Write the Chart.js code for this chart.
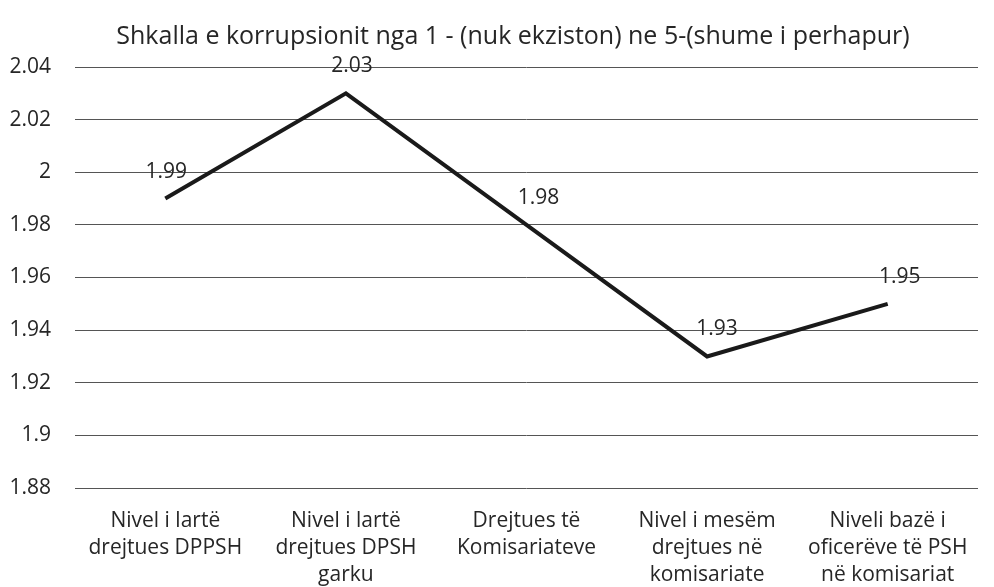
<!DOCTYPE html>
<html><head><meta charset="utf-8">
<script src="https://cdn.jsdelivr.net/npm/chart.js@4"></script>
<style>html,body{margin:0;padding:0;background:#fff}#wrap{width:994px;height:587px}</style>
</head><body><div id="wrap"><canvas id="c" width="994" height="587"></canvas></div>
<script>
const categories = [
  ["Nivel i lartë", "drejtues DPPSH"],
  ["Nivel i lartë", "drejtues DPSH", "garku"],
  ["Drejtues të", "Komisariateve"],
  ["Nivel i mesëm", "drejtues në", "komisariate"],
  ["Niveli bazë i", "oficerëve të PSH", "në komisariat"]
];
const values = [1.99, 2.03, 1.98, 1.93, 1.95];
const labelOffsets = [1, 6, 12, 10, 12];
const yMin = 1.88, yMax = 2.04, yStep = 0.02;
const title = "Shkalla e korrupsionit nga 1 - (nuk ekziston) ne 5-(shume i perhapur)";
const FONT = "'Open Sans', sans-serif";
const TXT = '#262626';

const labelPlugin = {
  id: 'valLabels',
  afterDatasetsDraw(chart) {
    const ctx = chart.ctx;
    const meta = chart.getDatasetMeta(0);
    ctx.save();
    ctx.font = "21px " + FONT;
    ctx.fillStyle = TXT;
    ctx.textAlign = 'center';
    ctx.textBaseline = 'middle';
    meta.data.forEach((pt, i) => {
      ctx.fillText(String(values[i]), pt.x + labelOffsets[i], pt.y - 27);
    });
    ctx.restore();
  }
};

const titlePlugin = {
  id: 'topTitle',
  afterDraw(chart) {
    const ctx = chart.ctx;
    ctx.save();
    ctx.font = "25px " + FONT;
    ctx.fillStyle = TXT;
    ctx.textAlign = 'center';
    ctx.textBaseline = 'middle';
    ctx.fillText(title, 513, 37);
    ctx.restore();
  }
};

new Chart(document.getElementById('c'), {
  type: 'line',
  data: {
    labels: categories,
    datasets: [{
      data: values,
      borderColor: '#1a1a1a',
      borderWidth: 4,
      pointRadius: 0,
      tension: 0,
      fill: false
    }]
  },
  options: {
    responsive: false,
    animation: false,
    devicePixelRatio: 1,
    layout: { padding: { left: 0, right: 16, top: 67, bottom: 0 } },
    plugins: {
      legend: { display: false },
      tooltip: { enabled: false },
      title: { display: false }
    },
    scales: {
      y: {
        min: yMin, max: yMax,
        border: { display: false },
        grid: { color: '#555', lineWidth: 1, drawTicks: false },
        afterFit(s) { s.width = 75; s.paddingTop = 0; s.paddingBottom = 0; },
        ticks: {
          stepSize: yStep,
          color: TXT,
          padding: 24,
          font: { family: FONT, size: 21 },
          callback: v => String(Math.round(v * 100) / 100)
        }
      },
      x: {
        offset: true,
        border: { display: false },
        grid: { display: false, drawTicks: false, offset: true },
        afterFit(s) { s.height = 99; s.paddingLeft = 0; s.paddingRight = 0; },
        ticks: {
          color: TXT,
          padding: 19,
          maxRotation: 0,
          autoSkip: false,
          font: { family: FONT, size: 21, lineHeight: 1.29 }
        }
      }
    }
  },
  plugins: [labelPlugin, titlePlugin]
});
</script></body></html>
